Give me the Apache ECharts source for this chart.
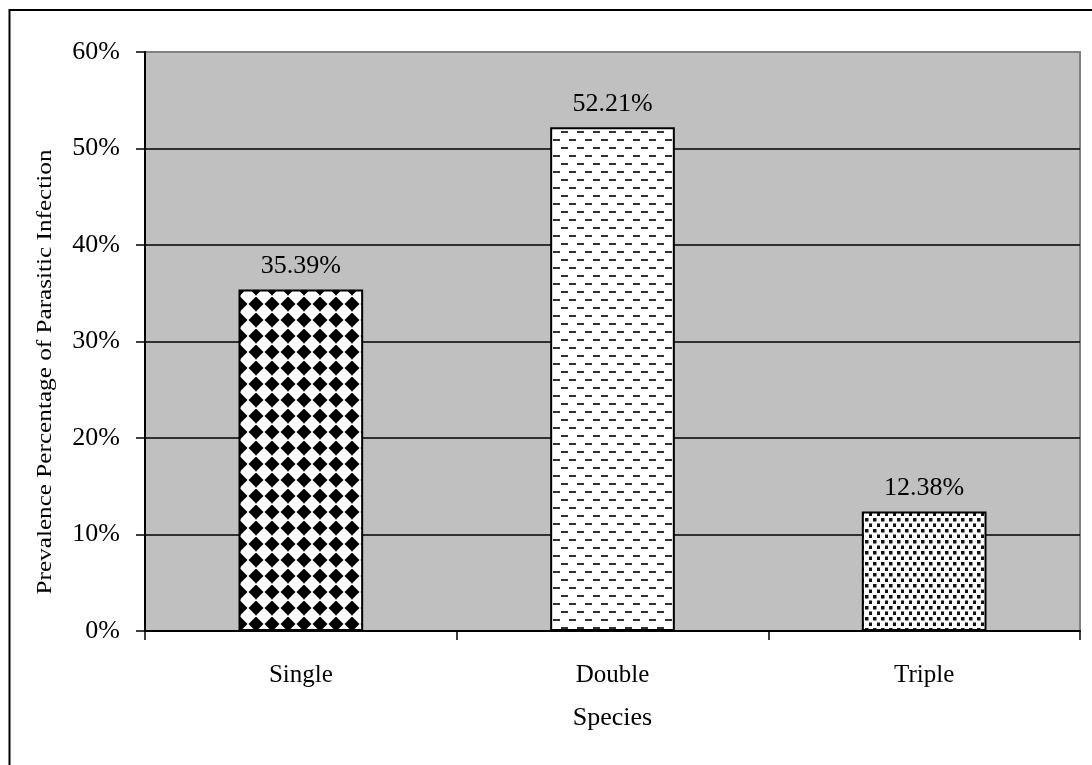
<!DOCTYPE html>
<html>
<head>
<meta charset="utf-8">
<script src="https://cdn.jsdelivr.net/npm/echarts@6/dist/echarts.min.js"></script>
<style>
  html, body { margin: 0; padding: 0; background: #fff; }
  #chart { width: 1092px; height: 765px; }
</style>
</head>
<body>
<div id="chart"></div>
<script>
// Prevalence of parasitic infection by number of species
const categories = ['Single', 'Double', 'Triple'];
const prevalence = [35.39, 52.21, 12.38];
const yTicks = [0, 10, 20, 30, 40, 50, 60];
const yTitle = 'Prevalence Percentage of Parasitic Infection';

const FONT = '"Liberation Serif", "Times New Roman", serif';

function makeTile(w, h, draw) {
  const c = document.createElement('canvas');
  c.width = w; c.height = h;
  const ctx = c.getContext('2d');
  draw(ctx, w, h);
  return c;
}

// black/white diamond checker
const checker = makeTile(16, 16, (ctx, w, h) => {
  ctx.fillStyle = '#000';
  ctx.fillRect(0, 0, w, h);
  ctx.fillStyle = '#fff';
  ctx.beginPath();
  ctx.moveTo(8, -0.5);
  ctx.lineTo(16.5, 8);
  ctx.lineTo(8, 16.5);
  ctx.lineTo(-0.5, 8);
  ctx.closePath();
  ctx.fill();
});

// staggered horizontal dashes
const dashes = makeTile(16, 16, (ctx, w, h) => {
  ctx.fillStyle = '#fff';
  ctx.fillRect(0, 0, w, h);
  ctx.fillStyle = '#333';
  ctx.fillRect(1, 3, 7, 2);
  ctx.fillRect(9, 11, 7, 2);
});

// small square dots
const dots = makeTile(8, 11, (ctx, w, h) => {
  ctx.fillStyle = '#fff';
  ctx.fillRect(0, 0, w, h);
  ctx.fillStyle = '#111';
  ctx.fillRect(1, 1, 3.5, 3.5);
  ctx.fillRect(5, 6.5, 3.5, 3.5);
});

const fills = [checker, dashes, dots];

const chart = echarts.init(document.getElementById('chart'), null, { renderer: 'canvas' });

chart.setOption({
  animation: false,
  backgroundColor: '#fff',
  textStyle: { fontFamily: FONT, color: '#000' },
  grid: {
    left: 145, right: 12, top: 52, bottom: 134,
    show: true, backgroundColor: '#C0C0C0', borderColor: '#808080', borderWidth: 2
  },
  xAxis: {
    type: 'category',
    data: categories,
    boundaryGap: true,
    name: 'Species',
    nameLocation: 'middle',
    nameGap: 74,
    nameTextStyle: { fontFamily: FONT, fontSize: 26, color: '#000' },
    axisLine: { show: true, lineStyle: { color: '#000', width: 2 } },
    axisTick: { show: true, alignWithLabel: false, length: 9, inside: false, lineStyle: { color: '#000', width: 1.5 } },
    axisLabel: { fontFamily: FONT, fontSize: 25, color: '#000', margin: 32 }
  },
  yAxis: {
    type: 'value',
    min: yTicks[0],
    max: yTicks[yTicks.length - 1],
    interval: 10,
    axisLine: { show: true, lineStyle: { color: '#000', width: 2 } },
    axisTick: { show: true, length: 9, inside: false, lineStyle: { color: '#000', width: 1.5 } },
    axisLabel: { fontFamily: FONT, fontSize: 26, color: '#000', margin: 25, formatter: v => v + '%' },
    splitLine: {
      show: true,
      lineStyle: { color: ['#000', '#000', '#000', '#000', '#000', '#000', '#808080'], width: 1.5 }
    }
  },
  series: [{
    type: 'bar',
    barWidth: '40%',
    data: prevalence.map((v, i) => ({
      value: v,
      itemStyle: { color: { image: fills[i], repeat: 'repeat' } }
    })),
    itemStyle: { borderColor: '#000', borderWidth: 2 },
    label: {
      show: true,
      position: 'top',
      distance: 10,
      fontFamily: FONT,
      fontSize: 26,
      color: '#000',
      formatter: p => p.value.toFixed(2) + '%'
    }
  }],
  graphic: [
    {
      type: 'rect',
      silent: true,
      shape: { x: 9.5, y: 10, width: 1300, height: 1000 },
      style: { fill: null, stroke: '#000', lineWidth: 2 }
    },
    {
      // vertical axis title, drawn tall and narrow
      type: 'text',
      silent: true,
      x: 46,
      y: 372,
      rotation: Math.PI / 2,
      scaleX: 1.26,
      scaleY: 1,
      style: {
        text: yTitle,
        font: '20px ' + FONT,
        fill: '#000',
        align: 'center',
        verticalAlign: 'middle'
      }
    }
  ]
});
</script>
</body>
</html>
